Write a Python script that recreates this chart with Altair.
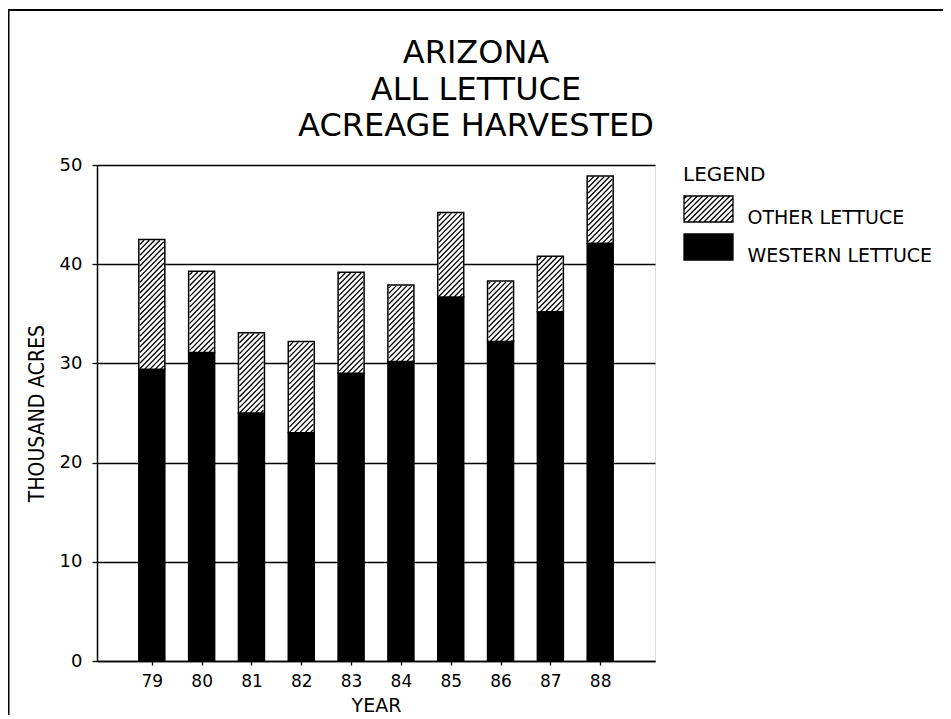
import altair as alt
import pandas as pd

# ---- data ----
years = [79, 80, 81, 82, 83, 84, 85, 86, 87, 88]
western = [29.4, 31.1, 25.0, 23.0, 29.0, 30.2, 36.7, 32.2, 35.2, 42.1]
other = [13.1, 8.2, 8.1, 9.2, 10.2, 7.7, 8.5, 6.1, 5.6, 6.8]
series = ["OTHER LETTUCE", "WESTERN LETTUCE"]
title_lines = ["ARIZONA", "ALL LETTUCE", "ACREAGE HARVESTED"]
y_ticks = [0, 10, 20, 30, 40, 50]

# ---- layout ----
W, H = 558, 496
XDOM = [78, 89]
YDOM = [0, 50]
BAR_W = 26
HATCH = 5.4  # vertical spacing of hatch lines, px
PAD = {"left": 89, "top": 157, "right": 288, "bottom": 54}

bar_rows = []
for yr, w, o in zip(years, western, other):
    bar_rows.append({"year": yr, "type": series[1], "lo": 0.0, "hi": w})
    bar_rows.append({"year": yr, "type": series[0], "lo": w, "hi": w + o})
bars_df = pd.DataFrame(bar_rows)

# hatch segments inside the "other" part of each bar, derived from the values
px_x = W / (XDOM[1] - XDOM[0])
px_y = H / (YDOM[1] - YDOM[0])
segs = []
for yr, w, o in zip(years, western, other):
    xc = (yr - XDOM[0]) * px_x
    xl, xr = xc - BAR_W / 2 + 0.8, xc + BAR_W / 2 - 0.8
    yb, yt = w * px_y, (w + o) * px_y - 0.8
    kmin = int((yb - xr) // HATCH) - 1
    kmax = int((yt - xl) // HATCH) + 1
    for k in range(kmin, kmax + 1):
        b = k * HATCH
        x0 = max(xl, yb - b)
        x1 = min(xr, yt - b)
        if x1 - x0 > 0.6:
            segs.append({
                "year": XDOM[0] + x0 / px_x, "lo": (x0 + b) / px_y,
                "year_end": XDOM[0] + x1 / px_x, "hi": (x1 + b) / px_y,
            })
hatch_df = pd.DataFrame(segs)

# legend swatch: 49x26 px rectangle with "/" hatching.
# symbol size gives a 26 px unit box (1 unit = 13 px); the path is wider than tall.
SW_W, SW_H = 49, 26
unit = SW_H / 2
hx = (SW_W / 2) / unit
su = HATCH / unit
parts = [f"M{-hx:.4f},-1H{hx:.4f}V1H{-hx:.4f}Z"]
c = -(hx + 1) + su / 2
while c < (hx + 1):
    x0 = max(-hx, c - 1)
    x1 = min(hx, c + 1)
    if x1 - x0 > 0.05:
        parts.append(f"M{x0:.4f},{c - x0:.4f}L{x1:.4f},{c - x1:.4f}")
    c += su
swatch_path = "".join(parts)

xscale = alt.Scale(domain=XDOM, nice=False, zero=False)
yscale = alt.Scale(domain=YDOM, nice=False)

xaxis = alt.Axis(
    values=years, format="d", grid=False,
    domainColor="black", domainWidth=1.5,
    tickColor="black", tickSize=4, tickWidth=1.3,
    labelFont="DejaVu Sans", labelFontSize=17, labelColor="black", labelPadding=8,
    title="YEAR", titleFont="DejaVu Sans", titleFontSize=19, titleFontWeight="normal",
    titleColor="black", titleBaseline="alphabetic", titleY=50,
)
yaxis = alt.Axis(
    values=y_ticks, format="d", grid=True,
    gridColor="black", gridWidth=1.3, gridOpacity=1,
    domainColor="black", domainWidth=1.5,
    tickColor="black", tickSize=5, tickWidth=1.3,
    labelFont="DejaVu Sans", labelFontSize=18, labelColor="black", labelPadding=10,
    title="THOUSAND ACRES",
    titleFont="Liberation Sans Narrow, DejaVu Sans Condensed, sans-serif",
    titleFontSize=21, titleFontWeight="normal", titleColor="black",
    titleAngle=270, titleAlign="center", titleBaseline="alphabetic",
    titleX=-54, titleY=H / 2,
)

legend = alt.Legend(
    orient="none", legendX=586, legendY=0, padding=0,
    title="LEGEND", titleFont="DejaVu Sans", titleFontSize=20, titleFontWeight="normal",
    titleColor="black", titlePadding=10,
    labelFont="DejaVu Sans", labelFontSize=19, labelColor="black",
    labelOffset=25, labelBaseline="top", labelLimit=400,
    symbolType=swatch_path, symbolSize=SW_H * SW_H, symbolOffset=(SW_W - SW_H) / 2,
    symbolStrokeColor="black", symbolStrokeWidth=1.3, symbolOpacity=1, rowPadding=3,
)

bars = alt.Chart(bars_df).mark_bar(size=BAR_W, stroke="black", strokeWidth=1.5).encode(
    x=alt.X("year:Q", scale=xscale, axis=xaxis),
    y=alt.Y("lo:Q", scale=yscale, axis=yaxis),
    y2="hi:Q",
    fill=alt.Fill("type:N", scale=alt.Scale(domain=series, range=["white", "black"]),
                  legend=legend),
)

hatch = alt.Chart(hatch_df).mark_rule(color="black", strokeWidth=1.3).encode(
    x=alt.X("year:Q", scale=xscale, axis=xaxis),
    x2="year_end:Q",
    y=alt.Y("lo:Q", scale=yscale, axis=yaxis),
    y2="hi:Q",
)

frame_df = pd.DataFrame({"k": [0]})
frame_top = alt.Chart(frame_df).mark_rule(color="black", strokeWidth=2).encode(
    x=alt.value(-PAD["left"]), x2=alt.value(W + PAD["right"]), y=alt.value(-PAD["top"] + 2)
)
frame_left = alt.Chart(frame_df).mark_rule(color="black", strokeWidth=1.5).encode(
    x=alt.value(-PAD["left"] + 0.75), y=alt.value(-PAD["top"] + 2), y2=alt.value(H + PAD["bottom"])
)

chart = alt.layer(bars, hatch, frame_top, frame_left).properties(
    width=W, height=H,
    autosize=alt.AutoSizeParams(type="none"),
    padding=PAD,
    title=alt.TitleParams(
        text=title_lines, anchor="middle", frame="group", dx=100, dy=145,
        font="DejaVu Sans", fontSize=32, fontWeight="normal", color="black",
        lineHeight=36.5, offset=11,
    ),
).configure_view(stroke="black", strokeWidth=1.5).configure(background="white")

chart.save("out.html", embed_options={"renderer": "svg", "actions": False})
